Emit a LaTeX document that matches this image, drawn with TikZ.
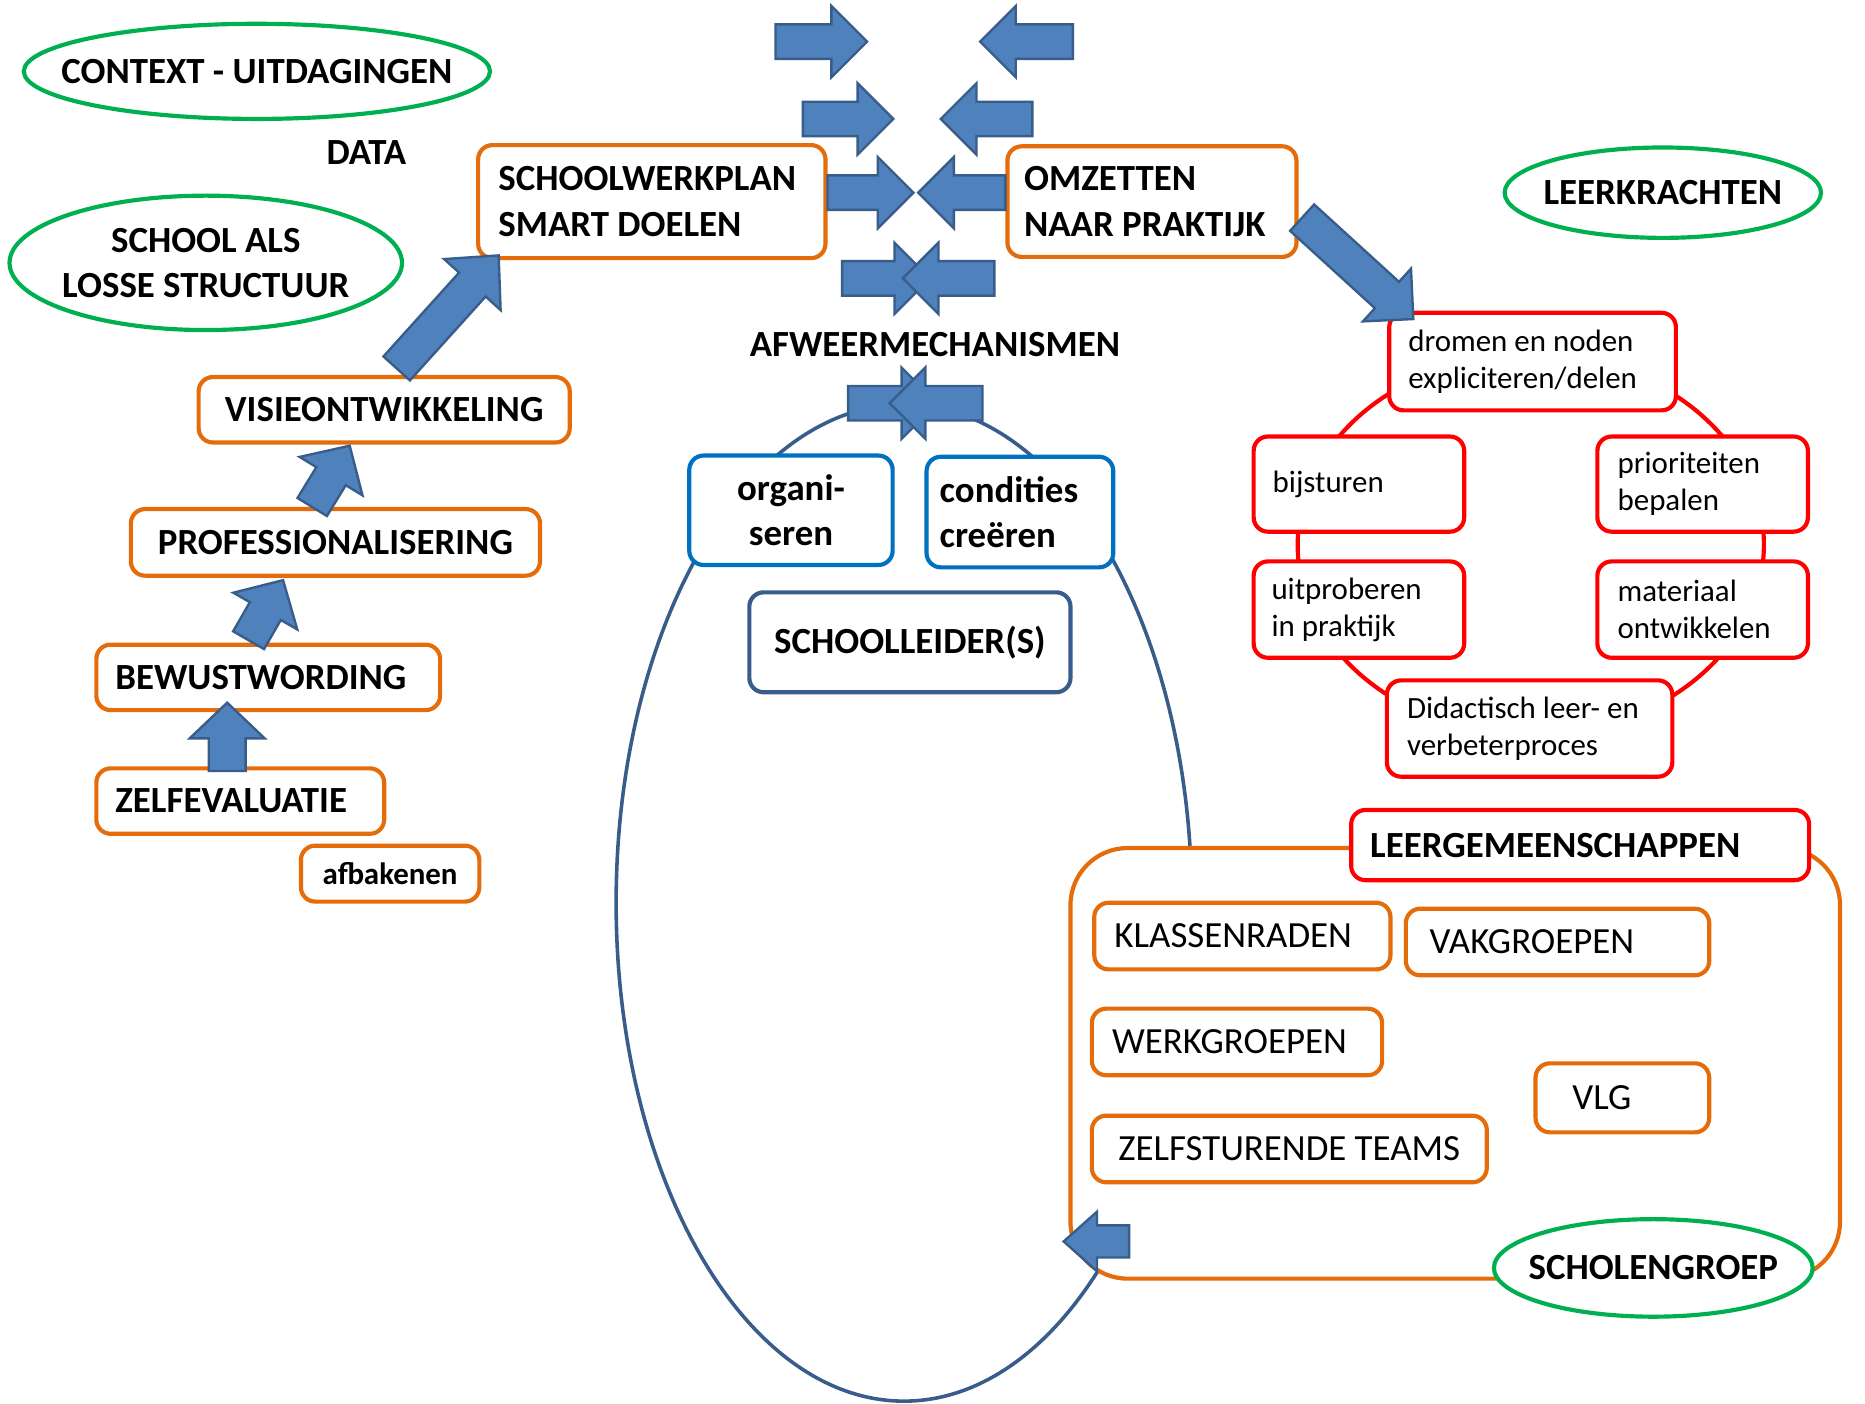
\documentclass[tikz,border=0pt]{standalone}
\usepackage{fontspec}
\setmainfont{Carlito}
\usetikzlibrary{calc}
\usetikzlibrary{shapes.geometric}
\definecolor{oranje}{HTML}{E46C0A}
\definecolor{groen}{HTML}{00B050}
\definecolor{rood}{HTML}{FF0000}
\definecolor{blauw}{HTML}{0070C0}
\definecolor{pijl}{HTML}{4F81BD}
\definecolor{pijlrand}{HTML}{385D8A}
% blokpijl: staart, punt, halve schachtbreedte, halve kopbreedte, koplengte
\def\blokpijl#1#2#3#4#5{%
  \path (#1) coordinate (bp-t) (#2) coordinate (bp-p);
  \coordinate (bp-h) at ($(bp-p)!#5!(bp-t)$);
  \filldraw[pijlvorm] ($(bp-t)!#3!90:(bp-p)$) -- ($(bp-h)!#3!90:(bp-p)$)
    -- ($(bp-h)!#4!90:(bp-p)$) -- (bp-p) -- ($(bp-h)!#4!-90:(bp-p)$)
    -- ($(bp-h)!#3!-90:(bp-p)$) -- ($(bp-t)!#3!-90:(bp-p)$) -- cycle;
}

\begin{document}
\begin{tikzpicture}[x=1pt, y=-1pt,
    vet/.style={font=\fontsize{31}{38}\selectfont\bfseries},
    dun/.style={font=\fontsize{31}{38}\selectfont},
    klein/.style={font=\fontsize{26}{31}\selectfont},
    kader/.style={draw, line width=3.5pt, rounded corners=12pt, fill=white, inner sep=0pt, align=flush left},
    okader/.style={kader, draw=oranje},
    rkader/.style={kader, draw=rood, klein, minimum width=177pt, minimum height=80pt},
    bkader/.style={kader, draw=blauw},
    ovaal/.style={ellipse, draw=groen, line width=3.5pt, fill=white, inner ysep=0pt, inner xsep=-40pt, vet, align=center},
    pijlvorm/.style={fill=pijl, draw=pijlrand, line width=2pt},
    lus/.style={draw=pijlrand, line width=3pt}]
  \useasboundingbox (0,0) rectangle (1568,1180);

  % achtergrond: lus rond de schoolleider en de rode cirkel
  \draw[lus] (760,759) ellipse [x radius=242, y radius=419];
  \draw[rood, line width=3.5pt] (1287,458) ellipse [x radius=196, y radius=160];
  \node[okader, rounded corners=48pt, minimum width=647pt, minimum height=362pt] (cont) at (1223.5,894) {};

  % groene ellipsen
  \node[ovaal, minimum width=392pt, minimum height=80pt] (ctx) at (216,60) {CONTEXT - UITDAGINGEN};
  \node[ovaal, minimum width=330pt, minimum height=113pt] (sals) at (173,221) {SCHOOL ALS\\LOSSE STRUCTUUR};
  \node[ovaal, minimum width=266pt, minimum height=76pt] (lkr) at (1398,162) {LEERKRACHTEN};
  \node[ovaal, minimum width=268pt, minimum height=82pt] (sgr) at (1390,1066) {SCHOLENGROEP};

  \node[vet] (data) at (308,128) {DATA};
  \node[vet] (afw) at (786,290) {AFWEERMECHANISMEN};

  % oranje trap links
  \node[okader, vet, minimum width=292pt, minimum height=95pt, text width=258pt] (swp) at (548,169.5) {SCHOOLWERKPLAN\\SMART DOELEN};
  \node[okader, vet, minimum width=243pt, minimum height=93pt, text width=215pt] (omz) at (968.5,169.5) {OMZETTEN\\NAAR PRAKTIJK};
  \node[okader, vet, minimum width=312pt, minimum height=55pt] (visie) at (323,344.5) {VISIEONTWIKKELING};
  \node[okader, vet, minimum width=344pt, minimum height=56pt] (prof) at (282,456) {PROFESSIONALISERING};
  \node[okader, vet, minimum width=289pt, minimum height=55pt, text width=257pt] (bew) at (225.5,569.5) {BEWUSTWORDING};
  \node[okader, vet, minimum width=242pt, minimum height=55pt, text width=210pt] (zelf) at (202,673.5) {ZELFEVALUATIE};
  \node[okader, font=\fontsize{26}{31}\selectfont\bfseries, minimum width=150pt, minimum height=47pt] (afb) at (328,734.5) {afbakenen};

  % schoolleider
  \node[bkader, vet, minimum width=171pt, minimum height=92pt, align=center] (org) at (665,429) {organi-\\seren};
  \node[bkader, vet, minimum width=157pt, minimum height=93pt, text width=135pt] (cond) at (857.5,430.5) {condities\\creëren};
  \node[kader, draw=pijlrand, vet, minimum width=270pt, minimum height=84pt] (sl) at (765,540) {SCHOOLLEIDER(S)};

  % rode cirkel
  \node[rkader, minimum width=241pt, minimum height=82pt, text width=209pt] (drom) at (1288.5,304) {dromen en noden\\expliciteren/delen};
  \node[rkader, text width=145pt] (bijs) at (1142.5,407) {bijsturen};
  \node[rkader, text width=143pt] (prio) at (1431.5,407) {prioriteiten\\bepalen};
  \node[rkader, minimum height=81pt, text width=147pt] (uitp) at (1142.5,512.5) {uitproberen\\in praktijk};
  \node[rkader, minimum height=81pt, text width=143pt] (mat) at (1431.5,512.5) {materiaal\\ontwikkelen};
  \node[rkader, minimum width=240pt, minimum height=81pt, text width=206pt] (did) at (1286,612.5) {Didactisch leer- en\\verbeterproces};

  % leergemeenschappen
  \node[kader, draw=rood, vet, minimum width=385pt, minimum height=59pt, text width=353pt] (lgm) at (1328.5,710.5) {LEERGEMEENSCHAPPEN};
  \node[okader, dun, minimum width=249pt, minimum height=56pt, text width=215pt] (klas) at (1044.5,787) {KLASSENRADEN};
  \node[okader, dun, minimum width=255pt, minimum height=56pt, text width=215pt] (vak) at (1309.5,792) {VAKGROEPEN};
  \node[okader, dun, minimum width=244pt, minimum height=56pt, text width=210pt] (werk) at (1040,876) {WERKGROEPEN};
  \node[okader, dun, minimum width=146pt, minimum height=58pt, text width=84pt] (vlg) at (1364,923) {VLG};
  \node[okader, dun, minimum width=332pt, minimum height=56pt] (zst) at (1084,966) {ZELFSTURENDE TEAMS};

  % pijlen trap
  \blokpijl{$(zelf.north)+(-11,4)$}{$(bew.south)+(-34.5,-8)$}{15.5pt}{31.5pt}{30pt}
  \blokpijl{$(bew.north)+(-16.5,-2)$}{$(prof.south)+(-44,2)$}{15pt}{31pt}{30pt}
  \blokpijl{$(prof.north)+(-19.5,0)$}{$(visie.south)+(-29,1)$}{14.5pt}{31pt}{30pt}
  \blokpijl{$(visie.north)+(10.5,-5.5)$}{$(swp.south west)+(19,-4)$}{15pt}{32pt}{33pt}
  \blokpijl{$(omz.east)+(3,13.5)$}{$(drom.north west)+(22,7)$}{15pt}{30pt}{30pt}

  % afweermechanismen
  \coordinate (midden) at (770,162);
  \foreach \ra/\rb/\la/\lb/\y in {652/729/902/824/35, 675/751/868/791/100}{
    \blokpijl{\ra,\y}{\rb,\y}{14.5pt}{30pt}{30pt}
    \blokpijl{\la,\y}{\lb,\y}{14.5pt}{30pt}{30pt}
  }
  \blokpijl{$(swp.east)+(0,-7.5)$}{$(midden)+(-2,0)$}{14.5pt}{30pt}{30pt}
  \blokpijl{$(omz.west)+(0,-7.5)$}{$(midden)+(2,0)$}{14.5pt}{30pt}{30pt}
  \foreach \ra/\rb/\la/\lb/\y in {708/782/836/759/234, 713/788/826/748/339}{
    \blokpijl{\ra,\y}{\rb,\y}{14.5pt}{30pt}{30pt}
    \blokpijl{\la,\y}{\lb,\y}{14.5pt}{30pt}{30pt}
  }
  \blokpijl{$(cont.south west)+(51,-33)$}{$(cont.south west)+(-4,-33)$}{13.5pt}{25pt}{28pt}
\end{tikzpicture}
\end{document}
